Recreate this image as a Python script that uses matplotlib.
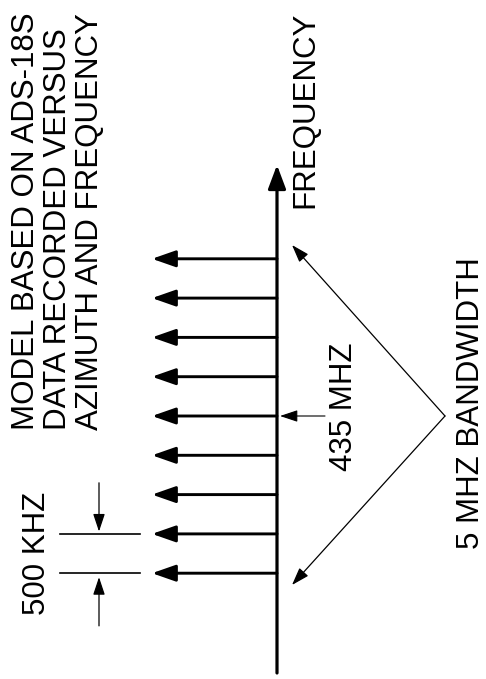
import numpy as np
import matplotlib
matplotlib.use('Agg')
import matplotlib.pyplot as plt

# спектральные линии модели (МГц) и их относительная амплитуда
line_freqs = [433.0, 433.5, 434.0, 434.5, 435.0, 435.5, 436.0, 436.5, 437.0]
line_amps = [1.0, 1.0, 1.0, 1.0, 1.0, 1.0, 1.0, 1.0, 1.0]
center_freq = 435.0
spacing_label = '500 KHZ'
center_label = '435 MHZ'
band_label = '5 MHZ BANDWIDTH'
axis_label = 'FREQUENCY'
note_label = 'MODEL BASED ON ADS-18S\nDATA RECORDED VERSUS\nAZIMUTH AND FREQUENCY'

plt.rcParams['font.family'] = ['Liberation Sans', 'DejaVu Sans']
FS = 22.5

# масштаб картинки: 125 px на единицу амплитуды, 78.6 px на МГц
X0, Y0, KX, KY = 277.0, 416.0, 125.0, 78.6


def px(x, y):
    # пиксели картинки -> координаты данных (амплитуда, частота)
    return (X0 - x) / KX, center_freq + (Y0 - y) / KY


def arrow(ax, tip, tail, lw, hl, hw, scale):
    ax.annotate('', xy=tip, xytext=tail,
                arrowprops=dict(arrowstyle='-|>,head_length=%g,head_width=%g' % (hl, hw),
                                mutation_scale=scale, lw=lw, color='black',
                                shrinkA=0, shrinkB=0))


fig = plt.figure(figsize=(4.86, 6.79), dpi=100)
ax = fig.add_axes([0, 0, 1, 1])
ax.set_xlim(px(0, 0)[0], px(486, 0)[0])
ax.set_ylim(px(0, 679)[1], px(0, 0)[1])
ax.axis('off')

# ось частот
arrow(ax, px(X0, 165), px(X0, 673), 2.3, 0.8, 0.3, 18)

# спектральные линии
for f, a in zip(line_freqs, line_amps):
    arrow(ax, (a, f), (0.0, f), 2.1, 0.8, 0.28, 18)

# отметка 435 МГц
arrow(ax, (px(280, 0)[0], center_freq), (px(325, 0)[0], center_freq), 0.8, 0.9, 0.3, 12)

# полоса 5 МГц
apex = (px(445, 0)[0], center_freq)
arrow(ax, px(292, 245), apex, 0.9, 0.9, 0.3, 12)
arrow(ax, px(292, 585), apex, 0.9, 0.9, 0.3, 12)

# интервал 500 кГц
f1, f2 = line_freqs[0], line_freqs[1]
xa, xb = px(60, 0)[0], px(140, 0)[0]
ax.plot([xa, xb], [f1, f1], color='black', lw=1.2)
ax.plot([xa, xb], [f2, f2], color='black', lw=1.2)
xm = px(99, 0)[0]
arrow(ax, (xm, f2 + 0.03), (xm, f2 + 0.65), 0.9, 0.9, 0.3, 12)
arrow(ax, (xm, f1 - 0.05), (xm, f1 - 0.67), 0.9, 0.9, 0.3, 12)

# подписи
ax.text(*px(305, 110), axis_label, rotation=90, ha='center', va='center', fontsize=FS)
ax.text(*px(344, 407), center_label, rotation=90, ha='center', va='center', fontsize=FS)
ax.text(*px(471, 403), band_label, rotation=90, ha='center', va='center', fontsize=FS)
ax.text(*px(37, 553), spacing_label, rotation=90, ha='center', va='center', fontsize=FS)
ax.text(*px(58, 430), note_label, rotation=90, ha='center', va='bottom',
        multialignment='left', linespacing=1.07, fontsize=FS)

fig.savefig('out.png', dpi=100)
